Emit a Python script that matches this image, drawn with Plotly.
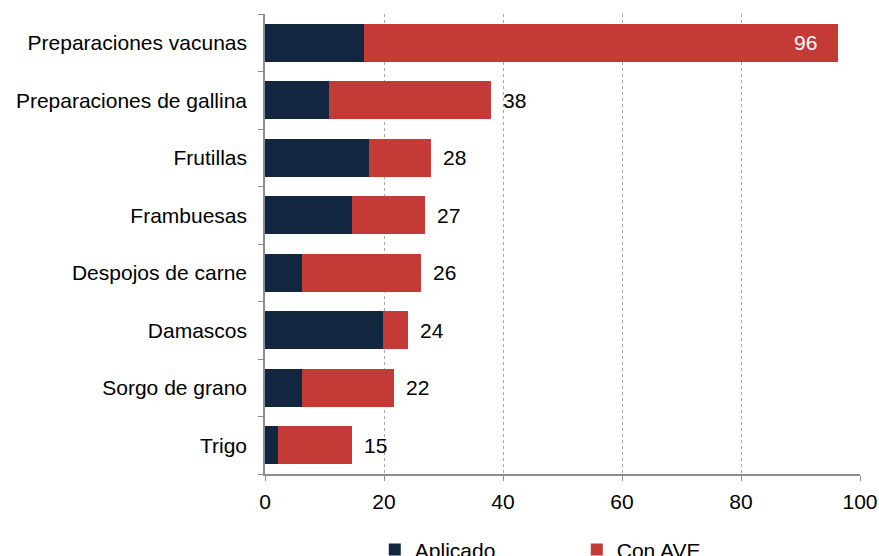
import plotly.graph_objects as go

categories = ["Preparaciones vacunas", "Preparaciones de gallina", "Frutillas", "Frambuesas",
              "Despojos de carne", "Damascos", "Sorgo de grano", "Trigo"]
aplicado = [16.6, 10.8, 17.5, 14.7, 6.2, 19.9, 6.2, 2.2]
totales = [96.3, 37.9, 27.9, 26.9, 26.3, 24.1, 21.6, 14.7]
etiquetas = ["96", "38", "28", "27", "26", "24", "22", "15"]
con_ave = [t - a for t, a in zip(totales, aplicado)]

FONT = "Liberation Sans, Arial, sans-serif"
DARK = "#13263F"
RED = "#C33A37"
FS = 21

fig = go.Figure()
fig.add_trace(go.Bar(y=categories, x=aplicado, orientation="h", name="Aplicado",
                     marker=dict(color=DARK, line=dict(width=0))))
fig.add_trace(go.Bar(y=categories, x=con_ave, orientation="h", name="Con AVE",
                     marker=dict(color=RED, line=dict(width=0))))

for cat, tot, lab in zip(categories, totales, etiquetas):
    inside = tot > 90
    fig.add_annotation(x=tot, y=cat, text=lab, showarrow=False,
                       xanchor="right" if inside else "left",
                       xshift=-19 if inside else 10,
                       font=dict(family=FONT, size=FS, color="white" if inside else "black"))

fig.update_layout(
    width=879, height=556,
    margin=dict(l=265, r=19, t=14, b=82, autoexpand=False),
    barmode="stack", bargap=0.34,
    plot_bgcolor="white", paper_bgcolor="white",
    font=dict(family=FONT, size=FS, color="black"),
    showlegend=True,
    legend=dict(orientation="h", x=0.524, xanchor="center", y=-0.165, yanchor="middle",
                font=dict(family=FONT, size=FS, color="black"), entrywidth=157,
                traceorder="normal"),
    xaxis=dict(range=[0, 100], dtick=20, showgrid=True, gridcolor="#A6A6A6", griddash="dot",
               gridwidth=1, showline=True, linecolor="#8C8C8C", linewidth=1.5,
               ticks="outside", ticklen=5, tickcolor="#8C8C8C", zeroline=False,
               tickfont=dict(family=FONT, size=FS, color="black"), ticklabelstandoff=3,
               ticklabeloverflow="allow"),
    yaxis=dict(categoryorder="array", categoryarray=categories[::-1], showline=True,
               linecolor="#8C8C8C", linewidth=1.5, ticks="outside", ticklen=5,
               tickcolor="#8C8C8C", tickson="boundaries", showgrid=False,
               tickfont=dict(family=FONT, size=FS, color="black"), ticklabelstandoff=12),
)

fig.write_html("out.html", config={"displayModeBar": False},
               post_script="document.body.style.margin='0';document.body.style.overflow='hidden';")
